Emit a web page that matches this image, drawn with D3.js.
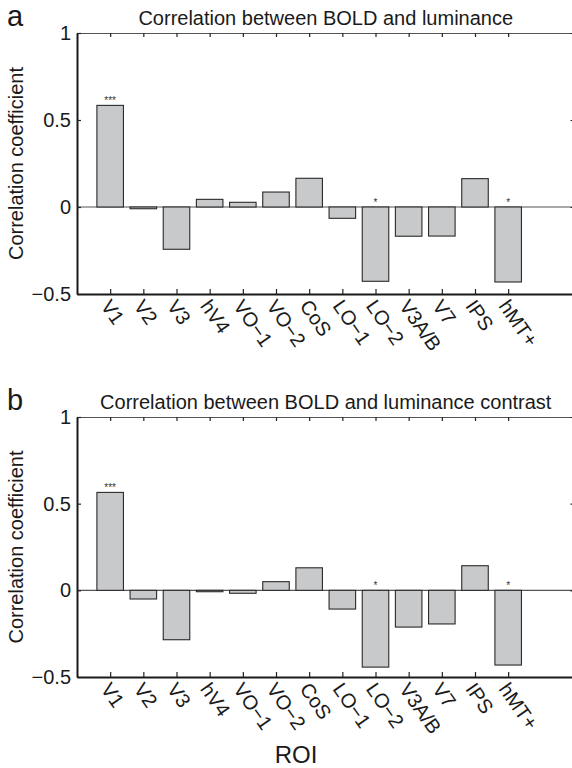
<meta charset="utf-8">
<svg id="svg" width="572" height="768"></svg>
<script src="https://d3js.org/d3.v7.min.js"></script>
<script>
    // regions of interest, same order in both panels
    var rois = ["V1", "V2", "V3", "hV4", "VO\u22121", "VO\u22122", "CoS", "LO\u22121", "LO\u22122", "V3A/B", "V7", "IPS", "hMT+"];

    // panel a: correlation between BOLD and luminance
    var lumValues = [0.584, -0.010, -0.243, 0.044, 0.027, 0.086, 0.165, -0.065, -0.427, -0.168, -0.167, 0.163, -0.431];
    var lumStars = ["***", "", "", "", "", "", "", "", "*", "", "", "", "*"];

    // panel b: correlation between BOLD and luminance contrast
    var conValues = [0.565, -0.050, -0.285, -0.008, -0.017, 0.050, 0.130, -0.108, -0.443, -0.212, -0.194, 0.142, -0.431];
    var conStars = ["***", "", "", "", "", "", "", "", "*", "", "", "", "*"];

    var yTicks = [-0.5, 0, 0.5, 1];

    var font = "'Liberation Sans', Arial, Helvetica, sans-serif";
    var svg = d3.select("#svg");

    var x = d3.scaleLinear().domain([0, 15]).range([77, 574.5]);

    function panel(letter, title, values, stars, top, bottom) {
        var g = svg.append("g");
        var y = d3.scaleLinear().domain([-0.5, 1]).range([bottom, top]);
        var barW = x(0.8) - x(0);

        // zero line
        g.append("line")
            .attr("x1", x(0)).attr("x2", x(15))
            .attr("y1", y(0)).attr("y2", y(0))
            .attr("stroke", "#555").attr("stroke-width", 1.2);

        // bars
        g.selectAll("rect.bar")
            .data(values)
            .enter()
            .append("rect")
            .attr("class", "bar")
            .attr("x", function (d, i) { return x(i + 1) - barW / 2; })
            .attr("y", function (d) { return y(Math.max(d, 0)); })
            .attr("width", barW)
            .attr("height", function (d) { return Math.abs(y(d) - y(0)); })
            .attr("fill", "#c8c9cb")
            .attr("stroke", "#2a2a2a")
            .attr("stroke-width", 1.1);

        // significance stars
        g.selectAll("text.star")
            .data(values)
            .enter()
            .append("text")
            .attr("class", "star")
            .attr("x", function (d, i) { return x(i + 1); })
            .attr("y", function (d) { return y(Math.max(d, 0)) - 1.5; })
            .attr("text-anchor", "middle")
            .attr("font-family", font)
            .attr("font-size", 10)
            .attr("fill", "#333")
            .text(function (d, i) { return stars[i]; });

        var ticks1 = d3.range(1, rois.length + 1);

        // top and right border with inward ticks
        var topAxis = g.append("g")
            .attr("transform", "translate(0," + top + ")")
            .call(d3.axisTop(x).tickValues(ticks1).tickSizeInner(-4).tickSizeOuter(0).tickFormat(""));
        var rightAxis = g.append("g")
            .attr("transform", "translate(" + x(15) + ",0)")
            .call(d3.axisRight(y).tickValues(yTicks).tickSizeInner(-4).tickSizeOuter(0).tickFormat(""));

        // bottom axis with rotated ROI labels
        var bottomAxis = g.append("g")
            .attr("transform", "translate(0," + bottom + ")")
            .call(d3.axisBottom(x).tickValues(ticks1).tickSizeInner(-5).tickSizeOuter(0)
                .tickFormat(function (d) { return rois[d - 1]; }));
        bottomAxis.selectAll(".tick text")
            .attr("x", 0).attr("y", 0).attr("dy", "0.35em")
            .attr("text-anchor", "start")
            .attr("transform", "translate(-5,8) rotate(55)");

        // left axis
        var leftAxis = g.append("g")
            .attr("transform", "translate(" + x(0) + ",0)")
            .call(d3.axisLeft(y).tickValues(yTicks).tickSizeInner(-4).tickSizeOuter(0).tickPadding(6)
                .tickFormat(d3.format("~g")));

        [topAxis, rightAxis].forEach(function (a) {
            a.select(".domain").attr("stroke", "#555").attr("stroke-width", 1.2);
        });
        [bottomAxis, leftAxis].forEach(function (a) {
            a.select(".domain").attr("stroke", "#1a1a1a").attr("stroke-width", 2);
        });
        [topAxis, rightAxis, bottomAxis, leftAxis].forEach(function (a) {
            a.selectAll(".tick line").attr("stroke", "#222").attr("stroke-width", 1.2);
            a.selectAll(".tick text").attr("font-family", font).attr("font-size", 20).attr("fill", "#1a1a1a");
        });

        // title
        g.append("text")
            .attr("x", (x(0) + x(15)) / 2)
            .attr("y", top - 8)
            .attr("text-anchor", "middle")
            .attr("font-family", font)
            .attr("font-size", 20)
            .attr("fill", "#1a1a1a")
            .text(title);

        // panel letter
        g.append("text")
            .attr("x", 7)
            .attr("y", top - 7)
            .attr("font-family", font)
            .attr("font-size", 29)
            .attr("fill", "#1a1a1a")
            .text(letter);

        // y label
        g.append("text")
            .attr("transform", "translate(23," + (top + bottom) / 2 + ") rotate(-90)")
            .attr("text-anchor", "middle")
            .attr("font-family", font)
            .attr("font-size", 20)
            .attr("fill", "#1a1a1a")
            .text("Correlation coefficient");
    }

    panel("a", "Correlation between BOLD and luminance", lumValues, lumStars, 33, 294);
    panel("b", "Correlation between BOLD and luminance contrast", conValues, conStars, 417, 677);

    svg.append("text")
        .attr("x", 296)
        .attr("y", 763)
        .attr("text-anchor", "middle")
        .attr("font-family", font)
        .attr("font-size", 24)
        .attr("fill", "#1a1a1a")
        .text("ROI");
</script>
<style>
    html,
    body {
        margin: 0;
        padding: 0;
    }
</style>
